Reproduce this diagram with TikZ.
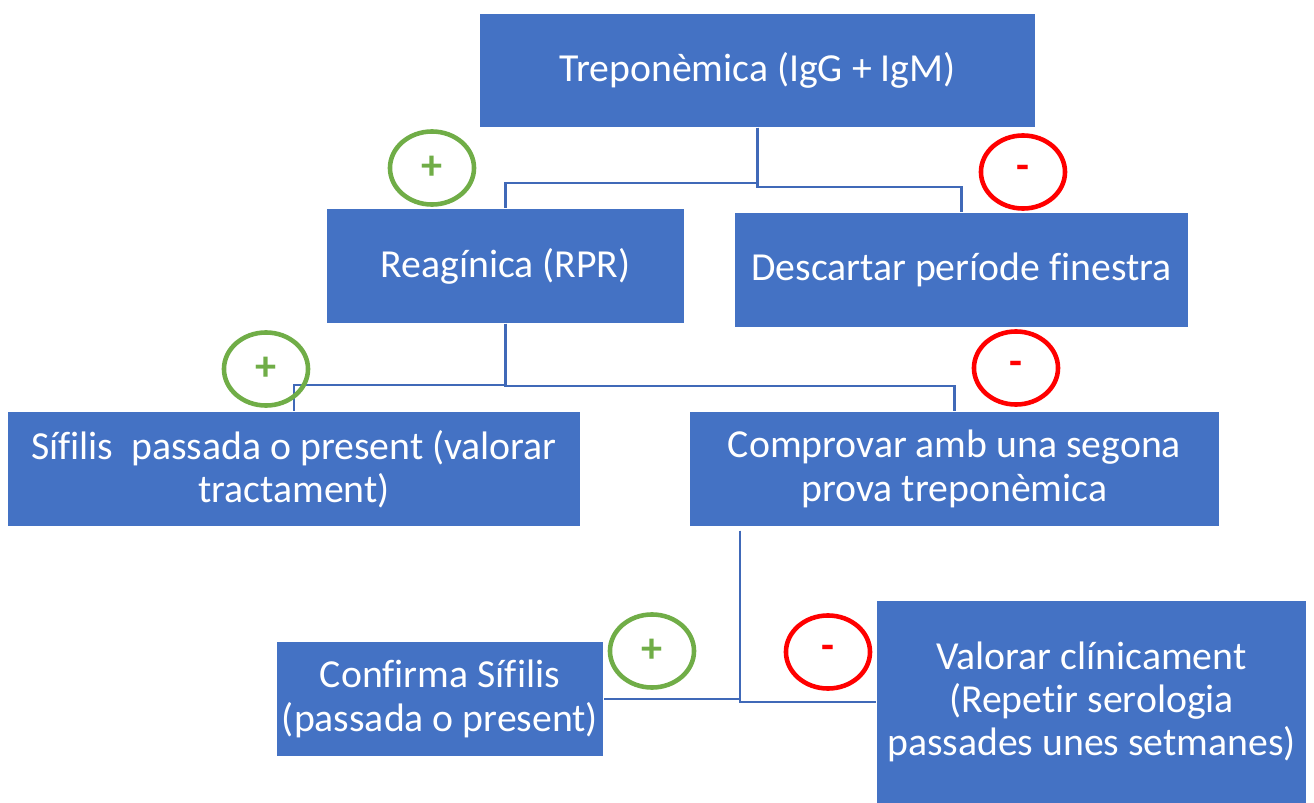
\documentclass[tikz,border=0pt]{standalone}
\usepackage{fontspec}
\setmainfont{Carlito}[Ligatures=NoCommon]
\usetikzlibrary{shapes.geometric}
\definecolor{blau}{HTML}{4472C4}
\definecolor{linia}{HTML}{4069B8}
\definecolor{verd}{HTML}{70AD47}
\definecolor{vermell}{HTML}{FF0000}

\begin{document}
\begin{tikzpicture}[x=0.01cm,y=-0.01cm,
   capsa/.style={rectangle,fill=blau,text=white,align=center,inner sep=0pt,
      font=\fontsize{11.3}{12.3}\selectfont},
   conn/.style={draw=linia,line width=0.6pt},
   signepos/.style={ellipse,draw=verd,text=verd,line width=1.3pt,
      minimum width=0.84cm,minimum height=0.73cm,inner sep=0pt,
      font=\bfseries\fontsize{12}{12}\selectfont},
   signeneg/.style={signepos,draw=vermell,text=vermell}]
   \useasboundingbox (0,0) rectangle (1314,803);

   % caixes
   \node[capsa,minimum width=5.55cm,minimum height=1.13cm] (trep) at (757.5,70.5) {Treponèmica (IgG + IgM)};
   \node[capsa,minimum width=3.57cm,minimum height=1.14cm] (reag) at (505.5,266) {Reagínica (RPR)};
   \node[capsa,minimum width=4.53cm,minimum height=1.14cm] (desc) at (961.5,270) {Descartar període finestra};
   \node[capsa,minimum width=5.72cm,minimum height=1.14cm] (sif) at (294,469) {Sífilis\ \ passada o present (valorar\\tractament)};
   \node[capsa,minimum width=5.29cm,minimum height=1.14cm] (comp) at (954.5,469) {Comprovar amb una segona\\prova treponèmica};
   \node[capsa,minimum width=3.26cm,minimum height=1.14cm] (conf) at (440,699) {Confirma Sífilis\\(passada o present)};
   \node[capsa,minimum width=4.29cm,minimum height=2.02cm] (val) at (1091.5,702) {Valorar clínicament\\(Repetir serologia\\passades unes setmanes)};

   % connectors
   \draw[conn] (trep.south) -- ++(0,55) -| (reag.north);
   \draw[conn] (trep.south) -- ++(0,59) -| (desc.north);
   \draw[conn] (reag.south) -- ++(0,61) -| (sif.north);
   \draw[conn] (reag.south) -- ++(0,62) -| (comp.north);
   \coordinate (unio) at ([xshift=0.51cm,yshift=-0.04cm]comp.south west);
   \draw[conn] (unio) |- (conf.east);
   \draw[conn] (unio) |- (val.west);

   % signes
   \node[signepos] (p1) at (432,168) {+};
   \node[signeneg] (n1) at (1023,172) {-};
   \node[signepos] (p2) at (266,369) {+};
   \node[signeneg] (n2) at (1016,368) {-};
   \node[signepos] (p3) at (652,651) {+};
   \node[signeneg] (n3) at (828,652) {-};
\end{tikzpicture}
\end{document}
